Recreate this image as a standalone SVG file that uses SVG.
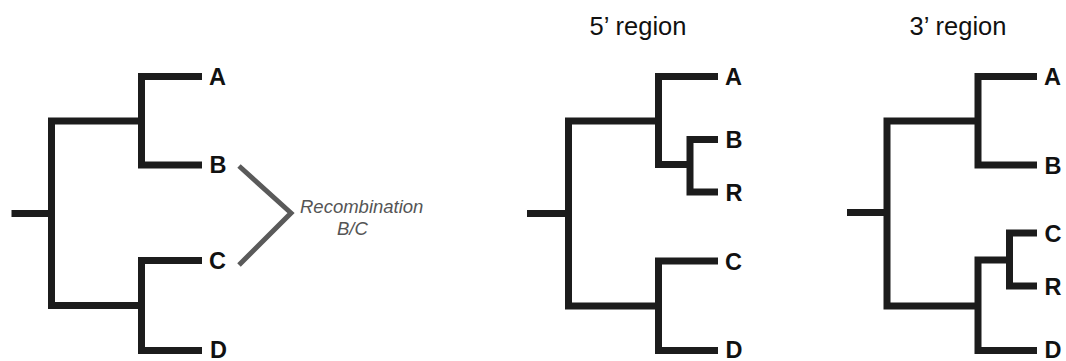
<svg xmlns="http://www.w3.org/2000/svg" width="1066" height="361" viewBox="0 0 1066 361">
  <style>
    .br { fill: none; stroke: #1c1c1c; stroke-width: 7; stroke-linejoin: miter; stroke-linecap: butt; }
    .tip { font-family: "Liberation Sans", Arial, sans-serif; font-weight: bold; font-size: 23.5px; fill: #111; }
    .title { font-family: "Liberation Sans", Arial, sans-serif; font-size: 25.5px; fill: #111; text-anchor: middle; }
    .note { font-family: "Liberation Sans", Arial, sans-serif; font-style: italic; font-size: 18.5px; fill: #555; }
    .recomb { fill: none; stroke: #5a5a5a; stroke-width: 5; stroke-linejoin: miter; }
  </style>
  <rect width="1066" height="361" fill="#ffffff"/>

  <!-- Original tree ((A,B),(C,D)) -->
  <g id="tree-original">
    <g class="connectors">
      <path class="br" d="M11.5 213.5 H51.5"/>
      <path class="br" d="M141.5 121 H51.5 V305.5 H141.5"/>
      <path class="br" d="M202 76.5 H141.5 V165 H202"/>
      <path class="br" d="M202 260.5 H141.5 V350.5 H202"/>
    </g>
    <g id="t1-A"><text class="tip" x="209" y="85">A</text></g>
    <g id="t1-B"><text class="tip" x="209.5" y="173">B</text></g>
    <g id="t1-C"><text class="tip" x="209" y="269">C</text></g>
    <g id="t1-D"><text class="tip" x="210" y="357.5">D</text></g>
  </g>

  <!-- Recombination marker between B and C -->
  <g id="recombination">
    <path class="recomb" d="M239 166 L291 213 L239 265"/>
    <text class="note" x="300" y="213">Recombination</text>
    <text class="note" x="337" y="235">B/C</text>
  </g>

  <!-- 5' region tree: R groups with B -->
  <g id="tree-5prime">
    <text class="title" x="638" y="35">5’ region</text>
    <g class="connectors">
      <path class="br" d="M527 213.5 H568.5"/>
      <path class="br" d="M658.5 121 H568.5 V306 H658.5"/>
      <path class="br" d="M718 76.5 H658.5 V164.5 H690"/>
      <path class="br" d="M718 139.5 H690 V192 H718"/>
      <path class="br" d="M718 261 H658.5 V350.5 H718"/>
    </g>
    <g id="t2-A"><text class="tip" x="725" y="85">A</text></g>
    <g id="t2-B"><text class="tip" x="725.5" y="148">B</text></g>
    <g id="t2-R"><text class="tip" x="725.5" y="200.5">R</text></g>
    <g id="t2-C"><text class="tip" x="725" y="269.5">C</text></g>
    <g id="t2-D"><text class="tip" x="725.5" y="357.5">D</text></g>
  </g>

  <!-- 3' region tree: R groups with C -->
  <g id="tree-3prime">
    <text class="title" x="958" y="35">3’ region</text>
    <g class="connectors">
      <path class="br" d="M847 212.5 H887"/>
      <path class="br" d="M978 121 H887 V306 H978"/>
      <path class="br" d="M1037 76.5 H978 V165 H1037"/>
      <path class="br" d="M1037 350.5 H978 V260 H1009.5"/>
      <path class="br" d="M1037 233 H1009.5 V286 H1037"/>
    </g>
    <g id="t3-A"><text class="tip" x="1044" y="85">A</text></g>
    <g id="t3-B"><text class="tip" x="1044.5" y="173.5">B</text></g>
    <g id="t3-C"><text class="tip" x="1044.5" y="241.5">C</text></g>
    <g id="t3-R"><text class="tip" x="1044.5" y="294.5">R</text></g>
    <g id="t3-D"><text class="tip" x="1044.5" y="357.5">D</text></g>
  </g>
</svg>
